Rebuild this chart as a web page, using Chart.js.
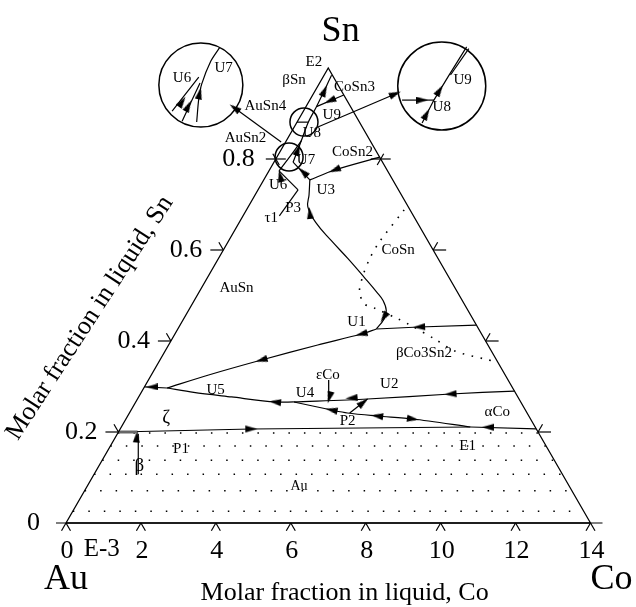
<!DOCTYPE html>
<html>
<head>
<meta charset="utf-8">
<title>Au-Co-Sn liquidus projection</title>
<script src="https://cdn.jsdelivr.net/npm/chart.js@4.4.1/dist/chart.umd.min.js"></script>
<style>
  html, body { margin: 0; padding: 0; background: #fff; }
  canvas { display: block; }
</style>
</head>
<body>
<canvas id="liquidus" width="636" height="607"></canvas>
<script>
// Liquidus projection of Au-Co-Sn, Sn up to 1, Co axis in units of 1e-3.
// Every composition below is [x(Co) * 1000, x(Sn)].
const CO_MAX = 14;
const coTicks = [0, 2, 4, 6, 8, 10, 12, 14];
const snTicks = [0, 0.2, 0.4, 0.6, 0.8];

// isotherms in the Au primary field
const isoSn = [0.198, 0.169, 0.138, 0.107, 0.071, 0.026];

// monovariant lines
const lineP1E1 = [[0, 0.2], [3.5, 0.2066], [9.32, 0.211]];
const lineP1 = [[0, 0.2], [0.5, 0.2]];
const lineAlphaE1 = [[11.1, 0.207], [9.32, 0.211]];
const lineP2 = [[4.22, 0.266], [5.35, 0.2484], [5.82, 0.2418], [6.66, 0.2352], [7.66, 0.2286], [9.32, 0.211]];
const lineU2 = [[9.94, 0.29], [8.28, 0.2835], [6.14, 0.2725], [4.22, 0.266]];
const lineU5 = [[4.22, 0.266], [3.72, 0.2659], [2.48, 0.277], [1.4, 0.287], [0.62, 0.2967]];
const lineZeta = [[0.62, 0.2967], [0, 0.299]];
const lineU1 = [[7.91, 0.435], [6.41, 0.4308], [5.3, 0.4264]];
const lineU1U5 = [[5.3, 0.4264], [4.98, 0.4154], [3.98, 0.3912], [2.71, 0.3582], [1.53, 0.3253], [0.62, 0.2967]];
const lineU3U1 = [[1.23, 0.754], [1.44, 0.721], [1.59, 0.695], [2.05, 0.66], [2.73, 0.621], [3.46, 0.581],
  [4.18, 0.54], [4.75, 0.507], [5.04, 0.489], [5.28, 0.467], [5.35, 0.448], [5.3, 0.4264]];
const lineCoSn2 = [[2.74, 0.804], [1.74, 0.7758], [1.23, 0.754]];
const lineU3U7 = [[1.23, 0.754], [0.51, 0.793]];
const lineTau1 = [[0.97, 0.675], [1.07, 0.732]];
const lineP3U6 = [[1.07, 0.732], [0.27, 0.774]];
const lineU6U7 = [[0.27, 0.774], [0.35, 0.81], [0.4, 0.84]];
const lineU7E2 = [[0.51, 0.793], [0.4, 0.84], [0.3, 0.881], [0.28, 0.915], [0.2, 0.984]];
const lineU8 = [[0, 0.881], [0.3, 0.881]];
const lineCoSn3 = [[0.83, 0.9407], [0.28, 0.915]];
const lineBeta = [[1.18, 0.1077], [0.56, 0.1956]];
const lineEpsCo = [[4.81, 0.3143], [5.12, 0.2703]];
const lineP2link = [[5.88, 0.2418], [6.14, 0.2725]];

// CoSn / beta-Co3Sn2 boundary (dotted)
const lineCoSn = [[4.21, 0.688], [4.04, 0.6176], [4.04, 0.5802], [4.13, 0.5407], [4.28, 0.5077], [4.6, 0.4813],
  [4.92, 0.4725], [5.73, 0.4484], [6.07, 0.4374], [7.01, 0.4044], [7.73, 0.378], [8.65, 0.3604], [9.04, 0.3538]];

// arrowheads: [co, sn] at the head, then the composition it points to
const arrows = [
  [3.5, 0.2066, 9.32, 0.211], [9.79, 0.2105, 9.32, 0.211],
  [3.72, 0.2659, 2.48, 0.277], [5.35, 0.2484, 4.22, 0.266], [6.66, 0.2352, 5.35, 0.2484],
  [7.66, 0.2286, 9.32, 0.211], [6.08, 0.265, 6.14, 0.2725],
  [8.28, 0.2835, 6.14, 0.2725], [5.7, 0.2747, 4.22, 0.266], [5.1, 0.276, 5.12, 0.2703],
  [6.41, 0.4308, 5.3, 0.4264], [4.98, 0.4154, 3.98, 0.3912], [2.71, 0.3582, 1.53, 0.3253],
  [0.21, 0.299, 0, 0.299], [5.32, 0.452, 5.3, 0.43], [1.74, 0.6813, 1.5, 0.71],
  [0.56, 0.19, 0.5, 0.2], [1.74, 0.7758, 1.23, 0.754], [0.93, 0.7714, 0.51, 0.793],
  [0.38, 0.7626, 0.27, 0.774], [0.45, 0.82, 0.4, 0.84], [0.25, 0.95, 0.2, 0.984],
  [0.55, 0.928, 0.28, 0.915]
];

// layout of the drawing on the canvas
const PAD = { left: 66, right: 41, top: 68, bottom: 84 };
const PLOT_W = 636 - PAD.left - PAD.right;
const PLOT_H = 607 - PAD.top - PAD.bottom;
const SERIF = '"Liberation Serif", "DejaVu Serif", serif';

// magnifier circles: two small ones on the diagram, two big ones outside
const magnifiers = [
  { cx: 0.4253, cy: 0.8044, r: 14 },
  { cx: 0.4537, cy: 0.8813, r: 14 },
  { cx: 0.2571, cy: 0.9626, r: 42 },
  { cx: 0.7164, cy: 0.9604, r: 44 }
];
// contents of the big circles, in units of their radius
const insetU6U7 = [
  [[-0.69, -0.62], [-0.05, 0.19]],
  [[-0.45, -0.86], [-0.02, 0.05]],
  [[-0.1, -0.88], [-0.05, -0.33], [0.02, 0.02], [0.24, 0.57], [0.45, 0.89]]
];
const insetU6U7Arrows = [[-0.45, -0.4, -0.05, 0.19], [-0.3, -0.5, -0.02, 0.05], [-0.03, -0.2, 0.02, 0.02], [0.3, 0.7, 0.45, 0.89]];
const insetU8U9 = [
  [[-0.45, -0.84], [-0.18, -0.32], [0.15, 0.22], [0.57, 0.89]],
  [[0.2, 0.25], [0.62, 0.85]],
  [[-0.91, -0.32], [-0.18, -0.32]]
];
const insetU8U9Arrows = [[-0.35, -0.64, -0.18, -0.32], [-0.05, -0.1, 0.15, 0.22], [0.4, 0.6, 0.15, 0.22], [-0.45, -0.32, -0.18, -0.32]];
// leaders from the small circles to the big ones
const leaders = [
  [[0.4102, 0.8374], [0.3214, 0.9121]],
  [[0.4802, 0.8703], [0.6276, 0.9429]]
];

const labels = [
  { t: 'Sn', at: [0.5236, 1.0791], size: 36 },
  { t: 'Au', at: [0, -0.1253], size: 36 },
  { t: 'Co', at: [1.04, -0.1253], size: 36 },
  { t: 'Molar fraction in liquid, Co', at: [0.5312, -0.1538], size: 26 },
  { t: 'Molar fraction in liquid, Sn', at: [0.0454, 0.4505], size: 26, rot: -57 },
  { t: 'E-3', at: [0.0681, -0.0571], size: 25 },
  { t: 'E2', at: [0.4726, 1.0132] }, { t: 'βSn', at: [0.4348, 0.9736] },
  { t: 'CoSn3', at: [0.5501, 0.9582] }, { t: 'AuSn4', at: [0.38, 0.9165] },
  { t: 'U9', at: [0.5066, 0.8967] }, { t: 'U8', at: [0.4688, 0.8571] },
  { t: 'AuSn2', at: [0.3422, 0.8462] }, { t: 'U7', at: [0.4575, 0.7978] },
  { t: 'CoSn2', at: [0.5463, 0.8154] }, { t: 'U6', at: [0.4045, 0.7429] },
  { t: 'U3', at: [0.4953, 0.7319] }, { t: 'P3', at: [0.4329, 0.6923] },
  { t: 'τ1', at: [0.3913, 0.6703] }, { t: 'CoSn', at: [0.6333, 0.6] },
  { t: 'AuSn', at: [0.3251, 0.5165] }, { t: 'U1', at: [0.5539, 0.4418] },
  { t: 'βCo3Sn2', at: [0.6824, 0.3736] }, { t: 'εCo', at: [0.4991, 0.3253] },
  { t: 'U2', at: [0.6163, 0.3055] }, { t: 'U4', at: [0.4556, 0.2857] },
  { t: 'U5', at: [0.2854, 0.2923] }, { t: 'ζ', at: [0.1909, 0.2308], size: 19 },
  { t: 'αCo', at: [0.8223, 0.244] }, { t: 'P2', at: [0.5369, 0.2242] },
  { t: 'E1', at: [0.7656, 0.1692] }, { t: 'P1', at: [0.2193, 0.1626] },
  { t: 'β', at: [0.1399, 0.1253], size: 19 }, { t: 'Au', at: [0.4442, 0.0813], size: 14 },
  { t: 'U6', at: [0.2212, 0.978] }, { t: 'U7', at: [0.3006, 1.0] },
  { t: 'U9', at: [0.7561, 0.9736] }, { t: 'U8', at: [0.7164, 0.9143] }
];

const toPlot = ([co, sn]) => ({ x: co / CO_MAX + sn / 2, y: sn });
const insetPoint = (m, [u, v]) => ({ x: m.cx + u * m.r / PLOT_W, y: m.cy + v * m.r / PLOT_H });

// slim arrowhead used as point style
const head = document.createElement('canvas');
head.width = 7; head.height = 12;
const hc = head.getContext('2d');
hc.fillStyle = '#000';
hc.beginPath(); hc.moveTo(3.5, 0); hc.lineTo(7, 12); hc.lineTo(0, 12); hc.closePath(); hc.fill();

function line(points, extra) {
  return Object.assign({
    data: points, showLine: true, pointRadius: 0, borderColor: '#000', borderWidth: 1.2,
    fill: false, clip: false, tension: 0
  }, extra);
}
const curve = (pts, extra) => line(pts.map(toPlot), extra);

function arrowSet(items) {
  return {
    data: items,
    showLine: false, clip: false, pointStyle: head, pointRadius: 6,
    rotation: ctx => {
      const p = ctx.raw;
      if (!p || !p.to) return 0;
      const xs = ctx.chart.scales.x, ys = ctx.chart.scales.y;
      const dx = xs.getPixelForValue(p.to.x) - xs.getPixelForValue(p.x);
      const dy = ys.getPixelForValue(p.to.y) - ys.getPixelForValue(p.y);
      return Math.atan2(dy, dx) * 180 / Math.PI + 90;
    }
  };
}

const datasets = [
  curve([[0, 0], [0, 1], [CO_MAX, 0], [0, 0]], { borderWidth: 1.3 }),
  curve(lineP1, { borderColor: '#666', borderWidth: 3 }),
  curve(lineP1E1), curve(lineAlphaE1), curve(lineP2, { tension: 0.3 }), curve(lineU2, { tension: 0.3 }),
  curve(lineU5, { tension: 0.3 }), curve(lineZeta), curve(lineU1), curve(lineU1U5, { tension: 0.3 }),
  curve(lineU3U1, { tension: 0.4 }), curve(lineCoSn2, { tension: 0.3 }), curve(lineU3U7),
  curve(lineTau1), curve(lineP3U6), curve(lineU6U7, { tension: 0.3 }), curve(lineU7E2, { tension: 0.3 }),
  curve(lineU8), curve(lineCoSn3), curve(lineBeta), curve(lineEpsCo), curve(lineP2link),
  curve(lineCoSn, { borderWidth: 1.6, borderDash: [1.6, 7.5], tension: 0.3 }),
  ...isoSn.map(sn => curve([[0, sn], [CO_MAX * (1 - sn), sn]], { borderWidth: 1.5, borderDash: [1.5, 14] })),
  arrowSet(arrows.map(a => Object.assign(toPlot([a[0], a[1]]), { to: toPlot([a[2], a[3]]) }))),
  {
    data: magnifiers.map(m => ({ x: m.cx, y: m.cy })),
    showLine: false, clip: false, pointStyle: 'circle',
    pointRadius: magnifiers.map(m => m.r), pointHoverRadius: magnifiers.map(m => m.r),
    pointBackgroundColor: 'rgba(0,0,0,0)', pointBorderColor: '#000', pointBorderWidth: 1.5
  },
  ...insetU6U7.map(seg => line(seg.map(p => insetPoint(magnifiers[2], p)), { tension: 0.3 })),
  ...insetU8U9.map(seg => line(seg.map(p => insetPoint(magnifiers[3], p)))),
  arrowSet(insetU6U7Arrows.map(a => Object.assign(insetPoint(magnifiers[2], [a[0], a[1]]), { to: insetPoint(magnifiers[2], [a[2], a[3]]) }))),
  arrowSet(insetU8U9Arrows.map(a => Object.assign(insetPoint(magnifiers[3], [a[0], a[1]]), { to: insetPoint(magnifiers[3], [a[2], a[3]]) }))),
  ...leaders.map(l => line(l.map(([x, y]) => ({ x, y })))),
  arrowSet(leaders.map(([a, b]) => ({ x: b[0], y: b[1], to: { x: b[0] + (b[0] - a[0]), y: b[1] + (b[1] - a[1]) } })))
];

// ternary ticks, tick labels and free text
const ternaryDecor = {
  id: 'ternaryDecor',
  afterDatasetsDraw(chart) {
    const { ctx } = chart;
    const xs = chart.scales.x, ys = chart.scales.y;
    const px = p => [xs.getPixelForValue(p.x), ys.getPixelForValue(p.y)];
    const c60 = Math.cos(Math.PI / 3), s60 = Math.sin(Math.PI / 3);
    ctx.save();
    ctx.strokeStyle = '#000';
    ctx.lineWidth = 1.2;
    const seg = (x1, y1, x2, y2) => { ctx.beginPath(); ctx.moveTo(x1, y1); ctx.lineTo(x2, y2); ctx.stroke(); };

    const [ax, ay] = px(toPlot([0, 0]));
    const [bx] = px(toPlot([CO_MAX, 0]));
    seg(ax - 10, ay, bx + 12, ay);

    ctx.fillStyle = '#000';
    ctx.textBaseline = 'middle';
    ctx.font = '26px ' + SERIF;
    coTicks.forEach(co => {
      const [x, y] = px(toPlot([co, 0]));
      seg(x, y, x - 9 * c60, y + 9 * s60);
      seg(x, y, x + 9 * c60, y + 9 * s60);
      ctx.textAlign = 'center';
      ctx.fillText(String(co), x + 1, y + 28);
    });
    snTicks.forEach(sn => {
      const [lx, ly] = px(toPlot([0, sn]));
      const [rx, ry] = px(toPlot([CO_MAX * (1 - sn), sn]));
      if (sn === 0.8) {
        seg(lx - 10, ly, lx + 10, ly);
        seg(lx - 6 * c60, ly - 6 * s60, lx + 7 * c60, ly + 7 * s60);
        seg(rx - 10, ry, rx + 10, ry);
        seg(rx + 6 * c60, ry - 6 * s60, rx - 7 * c60, ry + 7 * s60);
      } else if (sn > 0) {
        seg(lx - 13, ly, lx, ly);
        seg(lx, ly, lx - 9 * c60, ly - 9 * s60);
        seg(rx, ry, rx + 13, ry);
        seg(rx, ry, rx + 9 * c60, ry - 9 * s60);
      }
      ctx.textAlign = 'right';
      ctx.fillText(sn === 0 ? '0' : sn.toFixed(1), lx - (sn === 0 ? 26 : 21), ly);
    });

    ctx.textAlign = 'center';
    labels.forEach(l => {
      const [x, y] = px({ x: l.at[0], y: l.at[1] });
      ctx.font = (l.size || 15) + 'px ' + SERIF;
      if (l.rot) {
        ctx.save();
        ctx.translate(x, y);
        ctx.rotate(l.rot * Math.PI / 180);
        ctx.fillText(l.t, 0, 0);
        ctx.restore();
      } else {
        ctx.fillText(l.t, x, y);
      }
    });
    ctx.restore();
  }
};

new Chart(document.getElementById('liquidus').getContext('2d'), {
  type: 'scatter',
  data: { datasets },
  options: {
    responsive: false,
    animation: false,
    devicePixelRatio: 1,
    layout: { padding: PAD },
    scales: {
      x: { type: 'linear', min: 0, max: 1, display: false },
      y: { type: 'linear', min: 0, max: 1, display: false }
    },
    plugins: { legend: { display: false }, tooltip: { enabled: false } },
    events: []
  },
  plugins: [ternaryDecor]
});
</script>
</body>
</html>
